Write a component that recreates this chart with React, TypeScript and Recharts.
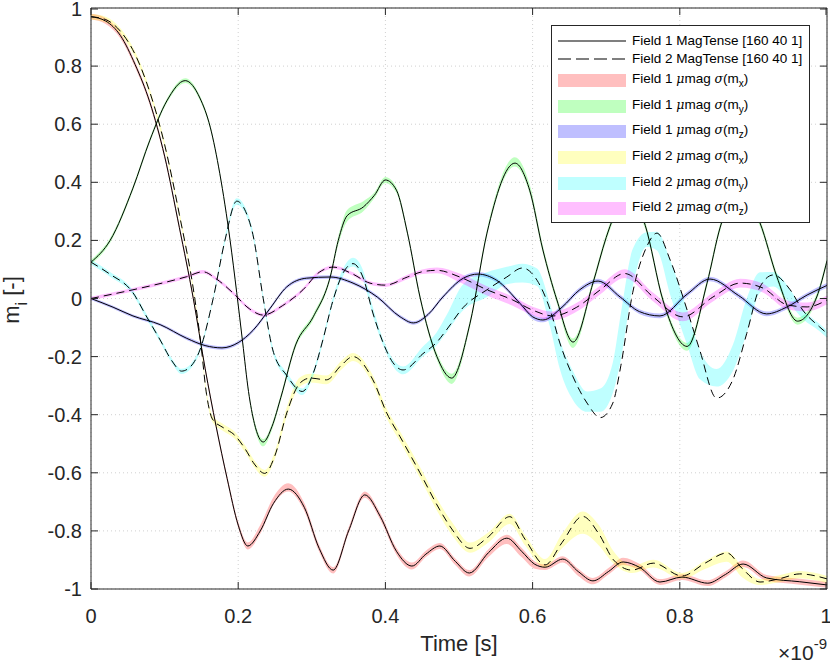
import React from 'react';
import { ComposedChart, Line, Area, XAxis, YAxis, CartesianGrid, ReferenceLine, Legend } from 'recharts';

// time axis in units of 1e-9 s
const X_TICKS = [0, 0.2, 0.4, 0.6, 0.8, 1];
const Y_TICKS = [-1, -0.8, -0.6, -0.4, -0.2, 0, 0.2, 0.4, 0.6, 0.8, 1];

// each point: [t, m, sigma band below, sigma band above]
const F1_MX = [
  [0, 0.97, 0.01, 0.01], [0.02, 0.955, 0.01, 0.01], [0.04, 0.905, 0.01, 0.01], [0.06, 0.805, 0.01, 0.01],
  [0.08, 0.675, 0.01, 0.01], [0.1, 0.49, 0.01, 0.01], [0.12, 0.245, 0.01, 0.01], [0.139, 0.0, 0.01, 0.01],
  [0.155, -0.24, 0.01, 0.01], [0.17, -0.44, 0.01, 0.01], [0.185, -0.62, 0.01, 0.01], [0.2, -0.78, 0.01, 0.012],
  [0.213, -0.852, 0.012, 0.012], [0.23, -0.8, 0.01, 0.02], [0.248, -0.705, 0.005, 0.022], [0.268, -0.656, 0.008, 0.02],
  [0.29, -0.72, 0.012, 0.015], [0.31, -0.86, 0.012, 0.012], [0.329, -0.935, 0.012, 0.01], [0.35, -0.8, 0.01, 0.012],
  [0.372, -0.676, 0.01, 0.012], [0.393, -0.75, 0.012, 0.012], [0.415, -0.87, 0.012, 0.012], [0.436, -0.921, 0.012, 0.012],
  [0.455, -0.88, 0.01, 0.012], [0.474, -0.852, 0.01, 0.01], [0.495, -0.905, 0.012, 0.01], [0.514, -0.945, 0.012, 0.01],
  [0.54, -0.875, 0.015, 0.012], [0.565, -0.825, 0.02, 0.012], [0.585, -0.87, 0.02, 0.012], [0.603, -0.915, 0.015, 0.01],
  [0.617, -0.925, 0.01, 0.01], [0.641, -0.897, 0.012, 0.01], [0.662, -0.94, 0.015, 0.01], [0.682, -0.972, 0.012, 0.01],
  [0.703, -0.94, 0.01, 0.012], [0.723, -0.907, 0.01, 0.015], [0.745, -0.925, 0.01, 0.012], [0.773, -0.976, 0.01, 0.01],
  [0.803, -0.959, 0.01, 0.01], [0.838, -0.98, 0.01, 0.01], [0.862, -0.95, 0.01, 0.01], [0.886, -0.914, 0.01, 0.012],
  [0.918, -0.962, 0.01, 0.01], [0.963, -0.975, 0.01, 0.01], [1, -0.986, 0.01, 0.01],
];

const F1_MY = [
  [0, 0.125, 0.008, 0.008], [0.026, 0.2, 0.008, 0.008], [0.057, 0.38, 0.008, 0.008], [0.08, 0.545, 0.008, 0.008],
  [0.103, 0.68, 0.008, 0.008], [0.128, 0.75, 0.008, 0.008], [0.148, 0.69, 0.008, 0.008], [0.162, 0.59, 0.008, 0.008],
  [0.175, 0.43, 0.008, 0.008], [0.189, 0.2, 0.008, 0.008], [0.198, 0.02, 0.008, 0.008], [0.206, -0.15, 0.01, 0.01],
  [0.214, -0.32, 0.01, 0.01], [0.222, -0.43, 0.012, 0.012], [0.234, -0.494, 0.015, 0.01], [0.246, -0.44, 0.012, 0.01],
  [0.258, -0.34, 0.01, 0.01], [0.278, -0.16, 0.01, 0.01], [0.302, -0.063, 0.01, 0.01], [0.325, 0.074, 0.01, 0.01],
  [0.336, 0.2, 0.015, 0.015], [0.348, 0.285, 0.02, 0.02], [0.37, 0.315, 0.015, 0.02], [0.385, 0.355, 0.01, 0.01],
  [0.4, 0.408, 0.01, 0.01], [0.415, 0.373, 0.01, 0.01], [0.43, 0.225, 0.01, 0.01], [0.447, 0.005, 0.01, 0.01],
  [0.47, -0.2, 0.012, 0.012], [0.49, -0.274, 0.02, 0.015], [0.515, -0.085, 0.012, 0.012], [0.538, 0.225, 0.012, 0.012],
  [0.576, 0.466, 0.012, 0.02], [0.596, 0.373, 0.012, 0.02], [0.614, 0.167, 0.012, 0.015], [0.633, -0.005, 0.012, 0.012],
  [0.655, -0.15, 0.02, 0.012], [0.682, 0.053, 0.012, 0.012], [0.7, 0.21, 0.012, 0.012], [0.71, 0.28, 0.012, 0.012],
  [0.733, 0.36, 0.012, 0.012], [0.753, 0.252, 0.012, 0.012], [0.777, -0.005, 0.012, 0.012], [0.81, -0.165, 0.015, 0.012],
  [0.837, 0.053, 0.012, 0.012], [0.855, 0.246, 0.012, 0.012], [0.882, 0.38, 0.012, 0.012], [0.909, 0.26, 0.012, 0.012],
  [0.932, 0.074, 0.012, 0.012], [0.96, -0.078, 0.012, 0.012], [0.986, 0.005, 0.012, 0.012], [1, 0.13, 0.012, 0.012],
];

const F1_MZ = [
  [0, 0, 0.005, 0.005], [0.03, -0.03, 0.005, 0.005], [0.057, -0.06, 0.005, 0.005], [0.094, -0.09, 0.005, 0.005],
  [0.13, -0.137, 0.006, 0.006], [0.155, -0.162, 0.006, 0.006], [0.178, -0.17, 0.006, 0.006], [0.2, -0.152, 0.006, 0.006],
  [0.22, -0.11, 0.006, 0.006], [0.243, -0.035, 0.006, 0.006], [0.266, 0.04, 0.006, 0.006], [0.293, 0.07, 0.006, 0.006],
  [0.325, 0.074, 0.006, 0.006], [0.356, 0.053, 0.006, 0.006], [0.389, 0.005, 0.006, 0.006], [0.42, -0.063, 0.006, 0.006],
  [0.438, -0.084, 0.006, 0.006], [0.458, -0.055, 0.006, 0.006], [0.478, 0.005, 0.006, 0.006], [0.506, 0.07, 0.007, 0.007],
  [0.526, 0.084, 0.007, 0.007], [0.551, 0.063, 0.007, 0.007], [0.583, -0.017, 0.007, 0.007], [0.6, -0.063, 0.008, 0.008],
  [0.614, -0.074, 0.008, 0.008], [0.64, -0.03, 0.008, 0.008], [0.664, 0.03, 0.008, 0.008], [0.689, 0.06, 0.008, 0.008],
  [0.719, 0.005, 0.008, 0.008], [0.745, -0.045, 0.008, 0.008], [0.773, -0.06, 0.008, 0.008], [0.81, 0.015, 0.008, 0.008],
  [0.841, 0.067, 0.008, 0.008], [0.88, 0.01, 0.008, 0.008], [0.918, -0.053, 0.008, 0.008], [0.945, -0.03, 0.008, 0.008],
  [0.973, 0.012, 0.008, 0.008], [1, 0.045, 0.008, 0.008],
];

const F2_MX = [
  [0, 0.97, 0.01, 0.01], [0.02, 0.96, 0.01, 0.01], [0.04, 0.92, 0.01, 0.01], [0.06, 0.84, 0.01, 0.01],
  [0.08, 0.71, 0.01, 0.01], [0.1, 0.53, 0.01, 0.01], [0.12, 0.29, 0.01, 0.01], [0.141, 0.0, 0.01, 0.01],
  [0.149, -0.15, 0.01, 0.01], [0.157, -0.33, 0.01, 0.01], [0.165, -0.415, 0.01, 0.012], [0.18, -0.445, 0.012, 0.012],
  [0.195, -0.47, 0.012, 0.012], [0.21, -0.52, 0.012, 0.012], [0.222, -0.57, 0.012, 0.012], [0.236, -0.602, 0.012, 0.012],
  [0.25, -0.54, 0.012, 0.015], [0.266, -0.394, 0.012, 0.02], [0.284, -0.291, 0.012, 0.02], [0.298, -0.274, 0.015, 0.015],
  [0.32, -0.28, 0.015, 0.015], [0.34, -0.23, 0.015, 0.015], [0.356, -0.2, 0.015, 0.012], [0.383, -0.28, 0.015, 0.015],
  [0.402, -0.395, 0.018, 0.015], [0.42, -0.476, 0.018, 0.018], [0.447, -0.6, 0.018, 0.02], [0.474, -0.728, 0.02, 0.022],
  [0.492, -0.8, 0.02, 0.025], [0.515, -0.86, 0.015, 0.02], [0.54, -0.82, 0.02, 0.015], [0.569, -0.751, 0.025, 0.01],
  [0.59, -0.83, 0.02, 0.015], [0.617, -0.917, 0.01, 0.02], [0.64, -0.84, 0.02, 0.03], [0.668, -0.75, 0.06, 0.017],
  [0.69, -0.81, 0.04, 0.03], [0.71, -0.9, 0.012, 0.03], [0.735, -0.935, 0.01, 0.015], [0.764, -0.911, 0.015, 0.012],
  [0.803, -0.955, 0.01, 0.01], [0.835, -0.91, 0.02, 0.008], [0.864, -0.876, 0.03, 0.005], [0.885, -0.93, 0.03, 0.008],
  [0.909, -0.976, 0.01, 0.01], [0.935, -0.965, 0.012, 0.012], [0.963, -0.948, 0.015, 0.01], [1, -0.965, 0.015, 0.01],
];

const F2_MY = [
  [0, 0.125, 0.008, 0.008], [0.025, 0.085, 0.008, 0.008], [0.057, 0.02, 0.008, 0.008], [0.075, -0.06, 0.008, 0.008],
  [0.094, -0.143, 0.008, 0.008], [0.11, -0.215, 0.008, 0.008], [0.123, -0.25, 0.01, 0.008], [0.135, -0.235, 0.008, 0.008],
  [0.148, -0.177, 0.008, 0.008], [0.166, 0.0, 0.008, 0.008], [0.182, 0.2, 0.01, 0.01], [0.198, 0.335, 0.012, 0.01],
  [0.21, 0.3, 0.01, 0.012], [0.22, 0.22, 0.01, 0.012], [0.234, 0.0, 0.01, 0.01], [0.247, -0.177, 0.01, 0.01],
  [0.266, -0.265, 0.01, 0.01], [0.287, -0.32, 0.012, 0.01], [0.302, -0.257, 0.01, 0.01], [0.315, -0.143, 0.01, 0.01],
  [0.329, -0.005, 0.01, 0.012], [0.343, 0.09, 0.01, 0.015], [0.356, 0.12, 0.01, 0.02], [0.37, 0.07, 0.01, 0.025],
  [0.383, -0.05, 0.01, 0.02], [0.397, -0.153, 0.01, 0.012], [0.41, -0.22, 0.012, 0.012], [0.424, -0.246, 0.015, 0.012],
  [0.451, -0.19, 0.01, 0.025], [0.47, -0.15, 0.01, 0.035], [0.483, -0.108, 0.01, 0.05], [0.506, -0.03, 0.01, 0.08],
  [0.538, 0.03, 0.025, 0.06], [0.565, 0.074, 0.025, 0.035], [0.586, 0.105, 0.05, 0.015], [0.606, 0.063, 0.02, 0.04],
  [0.624, -0.04, 0.06, 0.02], [0.637, -0.153, 0.09, 0.01], [0.655, -0.27, 0.08, 0.02], [0.674, -0.36, 0.03, 0.04],
  [0.692, -0.41, -0.02, 0.1], [0.709, -0.36, -0.035, 0.14], [0.72, -0.23, -0.02, 0.18], [0.736, 0.02, -0.02, 0.15],
  [0.755, 0.178, 0, 0.05], [0.769, 0.225, 0.06, 0.005], [0.787, 0.132, 0.12, 0], [0.81, -0.04, 0.12, 0],
  [0.827, -0.177, 0.1, 0], [0.85, -0.343, -0.04, 0.1], [0.872, -0.28, -0.03, 0.12], [0.891, -0.12, 0, 0.12],
  [0.909, 0.04, 0.02, 0.05], [0.927, 0.081, 0.04, 0.01], [0.95, 0.03, 0.05, 0], [0.967, -0.04, 0.03, 0.005],
  [0.99, -0.098, 0.015, 0.01], [1, -0.12, 0.015, 0.01],
];

const F2_MZ = [
  [0, 0, 0.006, 0.006], [0.057, 0.03, 0.006, 0.006], [0.103, 0.057, 0.006, 0.006], [0.13, 0.075, 0.006, 0.006],
  [0.152, 0.092, 0.006, 0.006], [0.171, 0.066, 0.006, 0.006], [0.193, 0.019, 0.006, 0.006], [0.215, -0.035, 0.006, 0.006],
  [0.234, -0.057, 0.006, 0.006], [0.26, -0.025, 0.006, 0.006], [0.288, 0.03, 0.006, 0.006], [0.31, 0.09, 0.006, 0.006],
  [0.329, 0.108, 0.006, 0.006], [0.355, 0.085, 0.006, 0.006], [0.379, 0.053, 0.006, 0.006], [0.4, 0.046, 0.006, 0.006],
  [0.43, 0.074, 0.008, 0.008], [0.45, 0.092, 0.008, 0.008], [0.47, 0.097, 0.01, 0.01], [0.501, 0.074, 0.018, 0.012],
  [0.538, 0.03, 0.02, 0.012], [0.573, -0.005, 0.02, 0.012], [0.6, -0.04, 0.018, 0.012], [0.628, -0.06, 0.015, 0.015],
  [0.66, -0.03, 0.015, 0.015], [0.692, 0.03, 0.015, 0.015], [0.725, 0.086, 0.015, 0.015], [0.764, 0.005, 0.015, 0.015],
  [0.804, -0.063, 0.015, 0.015], [0.845, 0.005, 0.015, 0.015], [0.882, 0.053, 0.015, 0.015], [0.913, 0.036, 0.015, 0.015],
  [0.946, -0.022, 0.015, 0.015], [0.973, -0.029, 0.015, 0.015], [1, -0.005, 0.015, 0.015],
];

const SERIES = [
  { id: 'f1mx', pts: F1_MX, fill: '#ff0000', field: 1, comp: 'x' },
  { id: 'f1my', pts: F1_MY, fill: '#00ff00', field: 1, comp: 'y' },
  { id: 'f1mz', pts: F1_MZ, fill: '#0000ff', field: 1, comp: 'z' },
  { id: 'f2mx', pts: F2_MX, fill: '#ffff00', field: 2, comp: 'x' },
  { id: 'f2my', pts: F2_MY, fill: '#00ffff', field: 2, comp: 'y' },
  { id: 'f2mz', pts: F2_MZ, fill: '#ff00ff', field: 2, comp: 'z' },
];

const LINE_LABELS = ['Field 1 MagTense [160 40 1]', 'Field 2 MagTense [160 40 1]'];

const AX = '#262626';
const FONT = '"Liberation Sans", Arial, Helvetica, sans-serif';
const PLOT = { left: 91, top: 8, right: 827, bottom: 589 };
const DASH = '8 5';

const toLine = (pts: number[][]) => pts.map(([t, v]) => ({ t, v }));
const toBand = (pts: number[][]) => pts.map(([t, v, lo, hi]) => ({ t, band: [v - lo, v + hi] }));
const fmt = (v: number) => String(Math.round(v * 10) / 10);

const XTick = (p: any) => {
  const x = p.x;
  return (
    <g>
      <line x1={x} x2={x} y1={PLOT.bottom} y2={PLOT.bottom - 7} stroke={AX} />
      <line x1={x} x2={x} y1={PLOT.top} y2={PLOT.top + 7} stroke={AX} />
      <text x={x} y={623} textAnchor="middle" fontSize={20} fill={AX} fontFamily={FONT}>{fmt(p.payload.value)}</text>
    </g>
  );
};

const YTick = (p: any) => {
  const y = p.y;
  return (
    <g>
      <line x1={PLOT.left} x2={PLOT.left + 7} y1={y} y2={y} stroke={AX} />
      <line x1={PLOT.right} x2={PLOT.right - 7} y1={y} y2={y} stroke={AX} />
      <text x={82} y={y + 7} textAnchor="end" fontSize={20} fill={AX} fontFamily={FONT}>{fmt(p.payload.value)}</text>
    </g>
  );
};

const XLabel = () => (
  <g fontFamily={FONT} fill={AX}>
    <text x={459} y={651} textAnchor="middle" fontSize={22}>Time [s]</text>
    <text x={827} y={660} textAnchor="end" fontSize={21}>
      ×10<tspan dy={-11} fontSize={15}>-9</tspan>
    </text>
  </g>
);

const YLabel = () => (
  <text x={19} y={300} transform="rotate(-90 19 300)" textAnchor="middle" fontSize={22} fill={AX} fontFamily={FONT}>
    m<tspan dy={8} fontSize={16}>i</tspan><tspan dy={-8}> [-]</tspan>
  </text>
);

const ROW_Y = [15, 33, 54, 80, 105, 131, 157, 182];

const Sub = ({ c }: { c: string }) => (
  <span style={{ fontSize: 10, position: 'relative', top: 4 }}>{c}</span>
);

const LegendBox = () => {
  const rows: React.ReactNode[] = [];
  LINE_LABELS.forEach((label, i) => {
    rows.push(
      <React.Fragment key={'l' + i}>
        <svg style={{ position: 'absolute', left: 6, top: ROW_Y[i] - 2 }} width={68} height={4}>
          <line x1={0} x2={68} y1={2} y2={2} stroke="#000" strokeWidth={1.2} strokeDasharray={i === 1 ? '13 5' : undefined} />
        </svg>
        <div style={{ position: 'absolute', left: 80, top: ROW_Y[i] - 9, lineHeight: '18px', whiteSpace: 'nowrap' }}>{label}</div>
      </React.Fragment>
    );
  });
  SERIES.forEach((s, j) => {
    const cy = ROW_Y[j + 2];
    rows.push(
      <React.Fragment key={s.id}>
        <div style={{ position: 'absolute', left: 6, top: cy - 6.5, width: 68, height: 13, background: s.fill, opacity: 0.25 }} />
        <div style={{ position: 'absolute', left: 80, top: cy - 10, lineHeight: '18px', whiteSpace: 'nowrap' }}>
          Field {s.field} <i style={{ fontFamily: '"DejaVu Serif", serif', fontSize: 12.5 }}>μ</i>mag{' '}
          <i style={{ fontFamily: '"DejaVu Serif", serif', fontSize: 12.5 }}>σ</i>(m<Sub c={s.comp} />)
        </div>
      </React.Fragment>
    );
  });
  return (
    <div style={{ position: 'relative', width: 259, height: 198, boxSizing: 'border-box', border: `1px solid ${AX}`, background: '#fff', fontSize: 13.5, color: '#000', fontFamily: FONT }}>
      {rows}
    </div>
  );
};

export default function App() {
  return (
    <div style={{ position: 'absolute', left: 0, top: 0, width: 830, height: 663, background: '#fff', fontFamily: FONT }}>
      <ComposedChart width={830} height={663} margin={{ top: PLOT.top, right: 830 - PLOT.right, bottom: 0, left: 0 }}>
        <CartesianGrid stroke="#d0d0d0" strokeDasharray="1 3" />
        <XAxis type="number" dataKey="t" domain={[0, 1]} ticks={X_TICKS} allowDataOverflow height={663 - PLOT.bottom}
          axisLine={{ stroke: AX }} tickLine={false} tick={XTick} label={<XLabel />} />
        <YAxis type="number" domain={[-1, 1]} ticks={Y_TICKS} allowDataOverflow width={PLOT.left}
          axisLine={{ stroke: AX }} tickLine={false} tick={YTick} label={<YLabel />} />
        {SERIES.map((s) => (
          <Area key={'band-' + s.id} data={toBand(s.pts)} dataKey="band" type="monotone" stroke="none"
            fill={s.fill} fillOpacity={0.25} isAnimationActive={false} />
        ))}
        {SERIES.map((s) => (
          <Line key={'line-' + s.id} data={toLine(s.pts)} dataKey="v" type="monotone" stroke="#000" strokeWidth={1}
            strokeDasharray={s.field === 2 ? DASH : undefined} dot={false} activeDot={false} isAnimationActive={false} />
        ))}
        <ReferenceLine y={1} stroke={AX} />
        <ReferenceLine x={1} stroke={AX} />
        <Legend layout="vertical" align="center" verticalAlign="middle" content={() => <LegendBox />}
          wrapperStyle={{ left: 551, top: 25, width: 259, height: 198 }} />
      </ComposedChart>
    </div>
  );
}
